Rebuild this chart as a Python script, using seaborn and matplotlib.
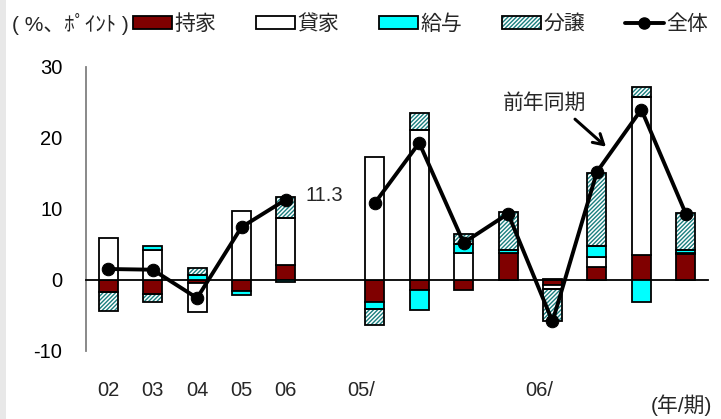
import numpy as np
import pandas as pd
import matplotlib
matplotlib.use("Agg")
import matplotlib.pyplot as plt
import seaborn as sns
from matplotlib.patches import Patch, Rectangle
from matplotlib.lines import Line2D

# ------------------------- data ------------------------- #
slot_labels = ["02", "03", "04", "05", "06", "", "05/", "", "", "", "06/", "", "", ""]
label_slots = [0, 1, 2, 3, 4, 5.7, 9.7]
label_text = ["02", "03", "04", "05", "06", "05/", "06/"]

nan = np.nan
mochiie = [-1.8, -2.0, -0.5, -1.6, 2.0, nan, -3.1, -1.4, -1.4, 3.7, -0.8, 1.8, 3.45, 3.6]
kashiya = [5.9, 4.2, -4.0, 9.7, 6.7, nan, 17.3, 21.1, 3.8, 0.1, -0.55, 1.4, 22.35, 0.1]
kyuyo = [0.0, 0.6, 0.7, -0.6, -0.4, nan, -1.0, -2.9, 1.2, 0.4, 0.1, 1.5, -3.2, 0.45]
bunjo = [-2.6, -1.2, 1.0, 0.0, 3.0, nan, -2.35, 2.4, 1.5, 5.3, -4.5, 10.3, 1.35, 5.3]
total = [1.5, 1.4, -2.6, 7.4, 11.3, nan, 10.8, 19.3, 5.2, 9.3, -5.9, 15.2, 24.0, 9.3]

RED = "#800000"
CYAN = "#00ffff"
HATCH_C = "#1a7f7f"

# ------------------------- style ------------------------- #
sns.set_theme(style="white")
plt.rcParams["font.family"] = ["Liberation Sans", "Noto Sans CJK JP", "DejaVu Sans"]
plt.rcParams["axes.unicode_minus"] = False
plt.rcParams["hatch.linewidth"] = 1.0
FS = 14.5
FS_JP = 15

fig = plt.figure(figsize=(7.21, 4.19), dpi=100)
fig.patches.append(Rectangle((0, 0), 6 / 721, 1, transform=fig.transFigure,
                             facecolor="#e8e8e8", edgecolor="none", zorder=0))
ax = fig.add_axes([86 / 721, 68.5 / 419, 622 / 721, 283.5 / 419])

# ------------------------- stacked bars ------------------------- #
W = 0.43
HATCH = "////////"
pos_base = np.zeros(len(slot_labels))
neg_base = np.zeros(len(slot_labels))
series = [(mochiie, dict(facecolor=RED)),
          (kashiya, dict(facecolor="white")),
          (kyuyo, dict(facecolor=CYAN)),
          (bunjo, None)]
for vals, style in series:
    for i, v in enumerate(vals):
        if np.isnan(v) or v == 0:
            continue
        base = pos_base[i] if v > 0 else neg_base[i]
        if style is None:
            ax.bar(i, v, bottom=base, width=W, facecolor="white", edgecolor=HATCH_C,
                   hatch=HATCH, linewidth=0, zorder=2)
            ax.bar(i, v, bottom=base, width=W, facecolor="none", edgecolor="black",
                   linewidth=1.3, zorder=3)
        else:
            ax.bar(i, v, bottom=base, width=W, edgecolor="black", linewidth=1.3,
                   zorder=3, **style)
        if v > 0:
            pos_base[i] += v
        else:
            neg_base[i] += v

# ------------------------- line ------------------------- #
df = pd.DataFrame({"x": np.arange(len(total)), "y": total})
for seg in (df.iloc[0:5], df.iloc[6:]):
    sns.lineplot(data=seg, x="x", y="y", ax=ax, color="black", linewidth=2.8,
                 marker="o", markersize=9, markeredgecolor="black", legend=False, zorder=5)

# ------------------------- axes ------------------------- #
ax.set_xlim(-0.5, len(slot_labels) - 0.5)
ax.set_ylim(-10, 30)
ax.set_xlabel("")
ax.set_ylabel("")
for s in ("top", "right"):
    ax.spines[s].set_visible(False)
ax.spines["left"].set_color("#808080")
ax.spines["left"].set_linewidth(1.3)
ax.spines["bottom"].set_position(("data", 0))
ax.spines["bottom"].set_color("black")
ax.spines["bottom"].set_linewidth(1.3)
ax.set_yticks([-10, 0, 10, 20, 30])
ax.tick_params(axis="y", direction="in", length=6, width=1.2, color="#808080",
               pad=17, labelsize=FS, labelcolor="black")
ax.set_xticks(np.arange(0.5, len(slot_labels), 1.0))
ax.tick_params(axis="x", direction="in", length=6, width=1.2, color="black",
               labelbottom=False)

sec = ax.secondary_xaxis(0)
sec.set_xticks(label_slots)
sec.set_xticklabels(label_text)
sec.tick_params(length=0, pad=22, labelsize=FS)
sec.spines["bottom"].set_visible(False)

# ------------------------- annotations ------------------------- #
ax.text(4.43, 11.9, "11.3", fontsize=FS, ha="left", va="center")
ax.text(9.83, 24.9, "前年同期", fontsize=FS_JP, ha="center", va="center")
ax.annotate("", xy=(11.25, 18.5), xytext=(10.46, 22.9),
            arrowprops=dict(arrowstyle="->,head_length=0.6,head_width=0.35",
                            color="black", lw=2.2))

fig.text(12 / 721, 1 - 24 / 419, "( %、ﾎﾟｲﾝﾄ )", fontsize=FS_JP, ha="left", va="center")
fig.text(712 / 721, 1 - 405 / 419, "(年/期)", fontsize=FS_JP, ha="right", va="center")

handles = [Patch(facecolor=RED, edgecolor="black", linewidth=1.3),
           Patch(facecolor="white", edgecolor="black", linewidth=1.3),
           Patch(facecolor=CYAN, edgecolor="black", linewidth=1.3),
           (Patch(facecolor="white", edgecolor=HATCH_C, hatch=HATCH, linewidth=0),
            Patch(facecolor="none", edgecolor="black", linewidth=1.3)),
           Line2D([], [], color="black", linewidth=2.8, marker="o", markersize=8)]
labels = ["持家", "貸家", "給与", "分譲", "全体"]
fig.legend(handles, labels, loc="center left", bbox_to_anchor=(133 / 721, 1 - 24 / 419),
           ncol=5, frameon=False, fontsize=FS_JP, handlelength=1.85, handleheight=0.6,
           handletextpad=0.15, columnspacing=1.9, borderaxespad=0, borderpad=0)

fig.savefig("out.png", dpi=100)
